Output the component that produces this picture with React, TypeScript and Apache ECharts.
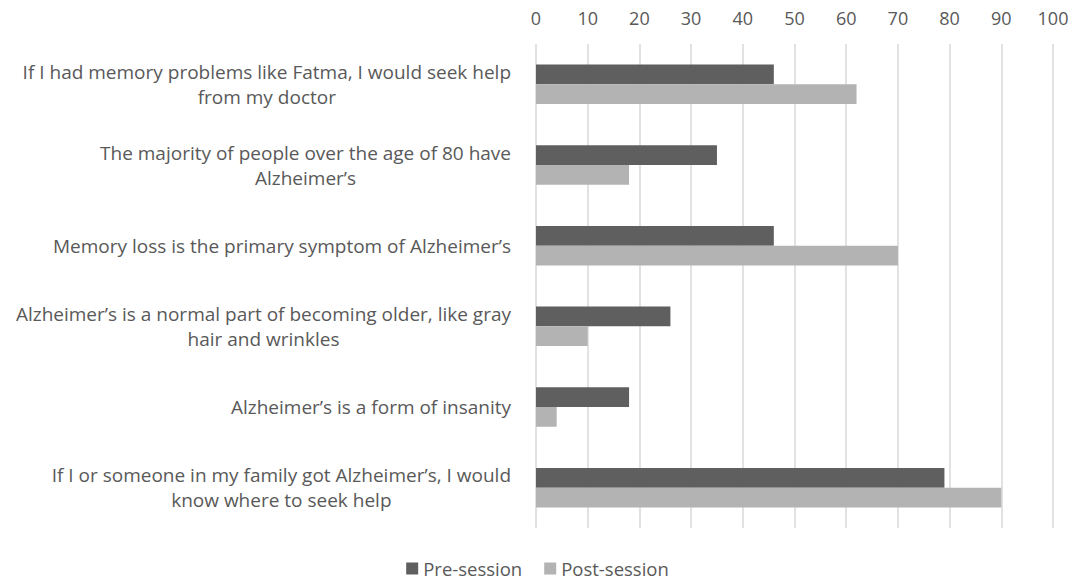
import React, { useEffect, useRef } from "react";
import * as echarts from "echarts";

const categories = [
  "If I had memory problems like Fatma, I would seek help\nfrom my doctor",
  "The majority of people over the age of 80 have\nAlzheimer’s",
  "Memory loss is the primary symptom of Alzheimer’s",
  "Alzheimer’s is a normal part of becoming older, like gray\nhair and wrinkles",
  "Alzheimer’s is a form of insanity",
  "If I or someone in my family got Alzheimer’s, I would\nknow where to seek help",
];
const preSession = [46, 35, 46, 26, 18, 79];
const postSession = [62, 18, 70, 10, 4, 90];
const seriesNames = ["Pre-session", "Post-session"];

const FONT = "'Open Sans', 'Noto Sans', sans-serif";
const TEXT = "#595959";

export default function App() {
  const ref = useRef<HTMLDivElement>(null);
  useEffect(() => {
    if (!ref.current) return;
    const chart = echarts.init(ref.current, undefined, { renderer: "svg" });
    chart.setOption({
      animation: false,
      textStyle: { fontFamily: FONT },
      grid: { left: 536, right: 22, top: 44, bottom: 55, containLabel: false },
      legend: {
        bottom: 0,
        left: "center",
        itemWidth: 12,
        itemHeight: 12,
        itemGap: 22,
        icon: "rect",
        textStyle: { color: TEXT, fontSize: 18.5, fontFamily: FONT },
        data: seriesNames,
      },
      xAxis: {
        type: "value",
        position: "top",
        min: 0,
        max: 100,
        interval: 10,
        axisLine: { show: false },
        axisTick: { show: false },
        axisLabel: { color: TEXT, fontSize: 18, margin: 17, fontFamily: FONT },
        splitLine: { show: true, lineStyle: { color: "#d9d9d9", width: 1.5 } },
      },
      yAxis: {
        type: "category",
        inverse: true,
        data: categories,
        axisLine: { show: false },
        axisTick: { show: false },
        axisLabel: {
          margin: 25,
          formatter: (v: string) =>
            v
              .split("\n")
              .map((l) => `{a|${l}}`)
              .join("\n"),
          rich: {
            a: {
              color: TEXT,
              fontSize: 19,
              fontFamily: FONT,
              align: "center",
              lineHeight: 25,
            },
          },
        },
      },
      series: [
        {
          name: seriesNames[0],
          type: "bar",
          data: preSession,
          itemStyle: { color: "#5f5f5f" },
          barGap: "0%",
          barCategoryGap: "51%",
        },
        {
          name: seriesNames[1],
          type: "bar",
          data: postSession,
          itemStyle: { color: "#b3b3b3" },
          barGap: "0%",
          barCategoryGap: "51%",
        },
      ],
    });
    return () => chart.dispose();
  }, []);
  return <div ref={ref} style={{ width: 1075, height: 583, position: "absolute", left: 0, top: 0 }} />;
}
